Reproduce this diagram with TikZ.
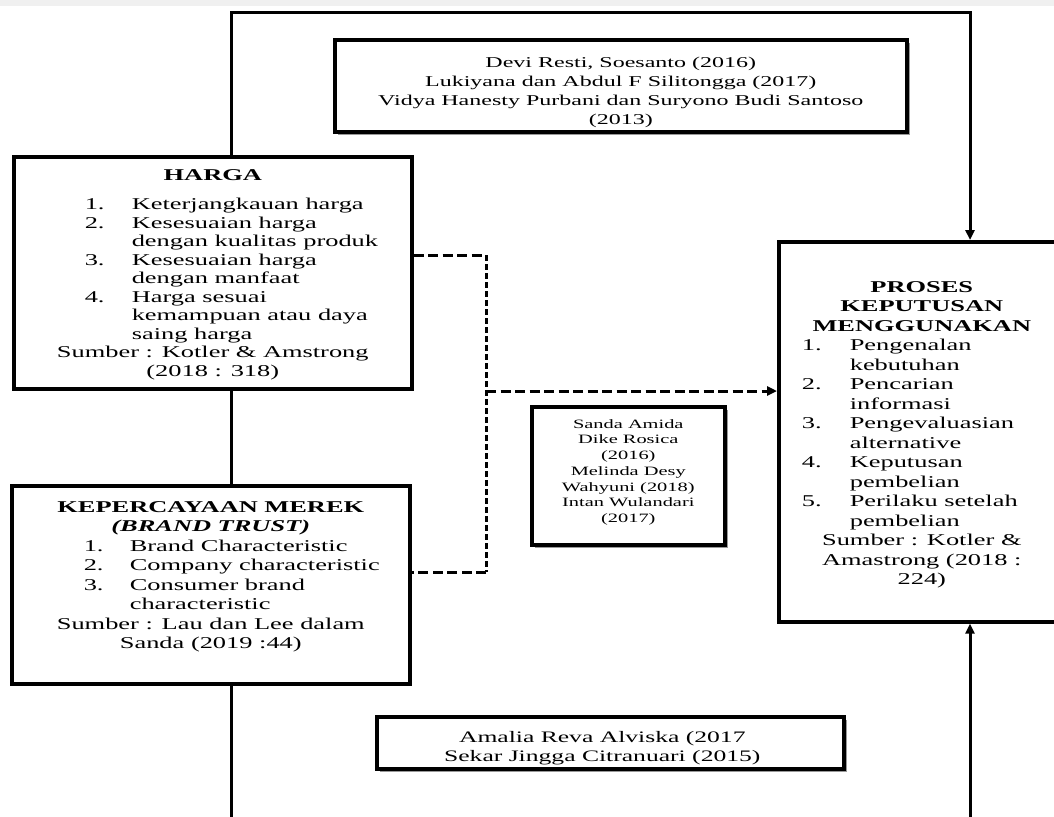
\documentclass[tikz,border=0pt]{standalone}
\usepackage{fontspec}
\setmainfont{Liberation Serif}[FakeStretch=1.6]
\usetikzlibrary{arrows.meta,shadows}

\newcommand{\numline}[4]{\noindent\hspace*{#1}\makebox[#2][l]{#3}#4\par}
\newcommand{\contline}[2]{\noindent\hspace*{#1}#2\par}
\newcommand{\midline}[1]{{\centering #1\par}}

\tikzset{
  mainbox/.style={draw, line width=3.6pt, inner sep=0pt, fill=white, anchor=north west},
  refbox/.style={draw, line width=3.6pt, inner sep=0pt, fill=white, anchor=north west,
    drop shadow={shadow xshift=3.5pt, shadow yshift=-3.5pt, fill=black!40, opacity=1}},
  link/.style={line width=3pt},
  hdash/.style={line width=3pt, dash pattern=on 10pt off 4.5pt},
  vdash/.style={line width=3pt, dash pattern=on 6pt off 3pt},
  tipend/.style={-{Triangle[length=10pt,width=9pt]}}
}

\begin{document}
\begin{tikzpicture}[x=1pt,y=-1pt]
\useasboundingbox (0,0) rectangle (1054,816);
\clip (0,0) rectangle (1054,816);
\fill[black!6] (0,0) rectangle (1054,6.5);

% helper coordinates
\coordinate (xl) at (231,0);
\coordinate (xr) at (970,0);
\coordinate (ytop) at (0,12.7);
\coordinate (ybot) at (0,840);
\coordinate (dh) at (486,255);
\coordinate (dm) at (486,391);
\coordinate (dk) at (486,572);

% boxes
\node[refbox] (devi) at (333,38) {\parbox[c][92pt][t]{572pt}{\fontsize{15}{19}\selectfont
  \vspace*{17.6pt}
  \midline{Devi Resti, Soesanto (2016)}
  \midline{Lukiyana dan Abdul F Silitongga (2017)}
  \midline{Vidya Hanesty Purbani dan Suryono Budi Santoso}
  \midline{(2013)}}};

\node[mainbox] (harga) at (12,155) {\parbox[c][232pt][t]{398pt}{\fontsize{16.5}{18.5}\selectfont
  \vspace*{12.6pt}
  \midline{\bfseries HARGA}
  \vspace{11pt}
  \numline{71pt}{47pt}{1.}{Keterjangkauan harga}
  \numline{71pt}{47pt}{2.}{Kesesuaian harga}
  \contline{118pt}{dengan kualitas produk}
  \numline{71pt}{47pt}{3.}{Kesesuaian harga}
  \contline{118pt}{dengan manfaat}
  \numline{71pt}{47pt}{4.}{Harga sesuai}
  \contline{118pt}{kemampuan atau daya}
  \contline{118pt}{saing harga}
  \midline{Sumber : Kotler \& Amstrong}
  \midline{(2018 : 318)}}};

\node[mainbox] (kep) at (10,484) {\parbox[c][198pt][t]{398pt}{\fontsize{16.5}{19.5}\selectfont
  \vspace*{15.6pt}
  \midline{\bfseries KEPERCAYAAN MEREK}
  \midline{\bfseries\itshape (BRAND TRUST)}
  \numline{72pt}{46pt}{1.}{Brand Characteristic}
  \numline{72pt}{46pt}{2.}{Company characteristic}
  \numline{72pt}{46pt}{3.}{Consumer brand}
  \contline{118pt}{characteristic}
  \midline{Sumber : Lau dan Lee dalam}
  \midline{Sanda (2019 :44)}}};

\node[mainbox] (proses) at (777,240) {\parbox[c][380pt][t]{286pt}{\fontsize{16.5}{19.5}\selectfont
  \vspace*{39.6pt}
  \midline{\bfseries PROSES}
  \midline{\bfseries KEPUTUSAN}
  \midline{\bfseries MENGGUNAKAN}
  \numline{23pt}{48pt}{1.}{Pengenalan}
  \contline{71pt}{kebutuhan}
  \numline{23pt}{48pt}{2.}{Pencarian}
  \contline{71pt}{informasi}
  \numline{23pt}{48pt}{3.}{Pengevaluasian}
  \contline{71pt}{alternative}
  \numline{23pt}{48pt}{4.}{Keputusan}
  \contline{71pt}{pembelian}
  \numline{23pt}{48pt}{5.}{Perilaku setelah}
  \contline{71pt}{pembelian}
  \midline{Sumber : Kotler \&}
  \midline{Amastrong (2018 :}
  \midline{224)}}};

\node[refbox] (sanda) at (530,405) {\parbox[c][138pt][t]{193pt}{\fontsize{12.75}{15.7}\selectfont
  \vspace*{12.6pt}
  \midline{Sanda Amida}
  \midline{Dike Rosica}
  \midline{(2016)}
  \midline{Melinda Desy}
  \midline{Wahyuni (2018)}
  \midline{Intan Wulandari}
  \midline{(2017)}}};

\node[refbox] (amalia) at (375,715) {\parbox[c][52pt][t]{467pt}{\fontsize{16}{19}\selectfont
  \vspace*{14.4pt}
  \midline{Amalia Reva Alviska (2017\hspace*{16pt}}
  \midline{Sekar Jingga Citranuari (2015)\hspace*{16pt}}}};

% solid connectors
\draw[link, tipend] (harga.north -| xl) -- (xl |- ytop) -- (xr |- ytop) -- (proses.north -| xr);
\draw[link] (harga.south -| xl) -- (kep.north -| xl);
\draw[link, tipend] (kep.south -| xl) -- (xl |- ybot) -- (xr |- ybot) -- (proses.south -| xr);

% dashed connectors
\draw[hdash] (harga.east |- dh) -- (dh);
\draw[vdash] (dh) -- (dk);
\draw[hdash] (dk) -- (kep.east |- dk);
\draw[hdash, tipend] (dm) -- (proses.west |- dm);
\end{tikzpicture}
\end{document}
